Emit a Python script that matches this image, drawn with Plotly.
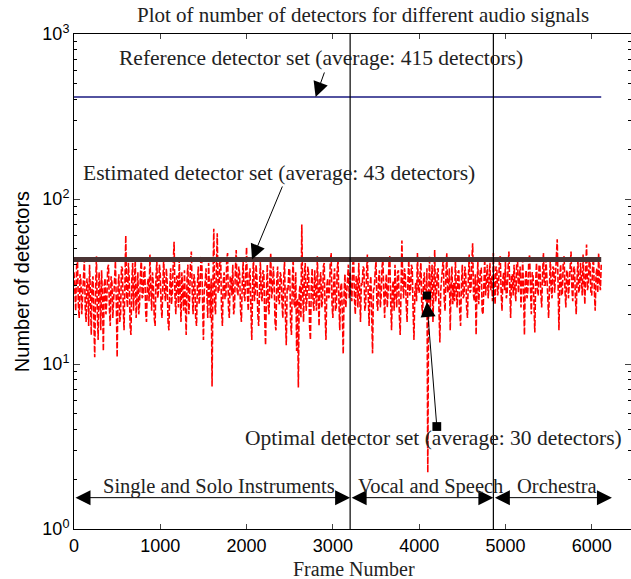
import math
import plotly.graph_objects as go

# Optimal number of detectors per frame (one sample every 10 frames)
optimal_detectors = [
    36, 25, 21, 39, 44, 23, 19, 35, 32, 20, 26, 41, 43, 22, 18, 33, 30, 17, 40, 27,
    15, 31, 34, 19, 11, 28, 45, 21, 14, 36, 29, 16, 37, 25, 12, 30, 33, 20, 24, 38,
    40, 22, 17, 34, 31, 19, 25, 37, 42, 24, 11, 29, 35, 18, 20, 39, 38, 23, 16, 30,
    60, 26, 22, 41, 33, 17, 15, 32, 41, 21, 27, 43, 19, 28, 36, 20, 23, 35, 44, 25,
    26, 37, 39, 21, 18, 30, 33, 24, 46, 29, 21, 36, 30, 19, 17, 34, 42, 25, 28, 40,
    35, 22, 19, 31, 44, 27, 24, 38, 31, 18, 16, 29, 38, 23, 27, 41, 55, 26, 20, 34,
    34, 22, 43, 28, 18, 36, 29, 21, 37, 26, 15, 33, 40, 20, 25, 42, 48, 27, 20, 35,
    32, 19, 17, 30, 39, 23, 26, 44, 45, 24, 14, 28, 31, 38, 23, 19, 41, 26, 19, 33,
    7.3, 30, 66, 24, 20, 38, 62, 27, 28, 41, 44, 21, 17, 32, 36, 25, 25, 43, 47, 22,
    19, 34, 33, 26, 40, 20, 22, 37, 49, 28, 26, 39, 35, 21, 18, 31, 42, 27, 24, 36,
    51, 26, 21, 35, 38, 22, 14, 30, 45, 24, 27, 40, 33, 20, 17, 29, 42, 26, 24, 37,
    36, 19, 13, 27, 40, 23, 20, 34, 47, 25, 28, 39, 31, 18, 16, 32, 39, 24, 23, 36,
    34, 24, 19, 33, 42, 20, 13, 29, 28, 38, 37, 18, 15, 31, 44, 23, 22, 36, 12, 25,
    7.2, 27, 30, 19, 70, 28, 18, 35, 41, 21, 25, 39, 35, 17, 14, 30, 38, 24, 21, 37,
    29, 21, 45, 26, 17, 33, 36, 22, 24, 39, 41, 20, 14, 30, 33, 25, 26, 42, 47, 23,
    19, 32, 38, 21, 22, 37, 43, 24, 16, 29, 31, 20, 11.5, 27, 35, 22, 28, 38, 40, 25,
    36, 27, 24, 40, 44, 25, 20, 34, 33, 22, 41, 28, 18, 31, 30, 39, 38, 21, 23, 35,
    46, 26, 17, 30, 34, 20, 11.6, 28, 29, 36, 42, 24, 21, 33, 37, 22, 26, 39, 43, 27,
    19, 30, 35, 22, 27, 41, 45, 24, 16, 29, 32, 21, 40, 27, 22, 36, 37, 20, 15, 28,
    56, 31, 25, 38, 34, 23, 18, 32, 43, 26, 28, 40, 38, 21, 14, 27, 31, 24, 47, 29,
    27, 35, 41, 23, 20, 32, 36, 25, 24, 38, 2.2, 26, 45, 22, 30, 40, 18, 29, 49, 24,
    26, 37, 38, 21, 13.5, 28, 33, 42, 44, 25, 21, 34, 47, 27, 29, 38, 16, 30, 39, 23,
    31, 24, 43, 28, 22, 36, 37, 21, 17, 30, 40, 25, 26, 39, 35, 22, 19, 33, 46, 27,
    28, 41, 54, 26, 24, 35, 15, 29, 42, 23, 30, 38, 38, 21, 20, 34, 44, 26, 33, 40,
    25, 37, 41, 28, 34, 24, 47, 30, 23, 39, 38, 26, 29, 43, 45, 27, 21, 33, 36, 28,
    42, 25, 27, 38, 48, 30, 19, 34, 35, 26, 40, 29, 24, 41, 44, 27, 31, 39, 22, 33,
    43, 27, 15, 33, 37, 25, 28, 42, 46, 29, 20, 36, 34, 24, 15.5, 31, 41, 28, 26, 40,
    39, 27, 22, 35, 47, 30, 30, 43, 36, 26, 19, 34, 44, 29, 25, 39, 38, 27, 33, 45,
    57, 30, 16, 34, 40, 26, 27, 42, 45, 28, 22, 37, 36, 25, 31, 44, 48, 29, 24, 38,
    39, 26, 20, 33, 43, 27, 29, 41, 35, 26, 46, 30, 23, 37, 53, 28, 30, 42, 41, 27,
    26, 39, 44, 28, 21, 35, 38, 27, 47, 32, 28, 40,
]
frames = list(range(0, 10 * len(optimal_detectors), 10))

reference_avg = 415
estimated_avg = 43
optimal_avg = 30

# Boundaries between the audio categories (frame numbers)
boundaries = [3200, 4860]
categories = ["Single and Solo Instruments", "Vocal and Speech", "Orchestra"]
category_spans = [(0, 3200), (3200, 4860), (4860, 6234)]

x_ticks = [0, 1000, 2000, 3000, 4000, 5000, 6000]
y_ticks = [1, 10, 100, 1000]
y_tick_text = ["10<sup>0</sup>", "10<sup>1</sup>", "10<sup>2</sup>", "10<sup>3</sup>"]
y_minor_ticks = [m * d for d in (1, 10, 100) for m in range(2, 10)]

serif = "Liberation Serif"
sans = "Liberation Sans"
ink = "#222222"

fig = go.Figure()

fig.add_trace(go.Scatter(
    x=frames, y=optimal_detectors, mode="lines",
    line=dict(color="#ff0000", width=1.6, dash="6px,2px"),
    hoverinfo="skip", showlegend=False,
))
fig.add_trace(go.Scatter(
    x=[frames[0], frames[-1]], y=[reference_avg, reference_avg], mode="lines",
    line=dict(color="#1a1a80", width=1.3), showlegend=False,
))
fig.add_trace(go.Scatter(
    x=[frames[0], frames[-1]], y=[estimated_avg, estimated_avg], mode="lines",
    line=dict(color="#4a3434", width=5), showlegend=False,
))
# Marker at the tip of the optimal-set pointer
fig.add_trace(go.Scatter(
    x=[4090], y=[26], mode="markers",
    marker=dict(symbol="square", size=8, color="black"), showlegend=False,
))

for b in boundaries:
    fig.add_shape(type="line", xref="x", yref="paper", x0=b, x1=b, y0=0, y1=1,
                  line=dict(color="black", width=1.2))

L = math.log10
ann = []

def text(x, y, s, size):
    ann.append(dict(x=x, y=L(y), xref="x", yref="y", text=s, showarrow=False,
                    xanchor="center", yanchor="middle",
                    font=dict(family=serif, size=size, color=ink)))

def arrow(x0, y0, x1, y1, both=False, start_head=None):
    d = dict(x=x1, y=L(y1), ax=x0, ay=L(y0), xref="x", yref="y", axref="x", ayref="y",
             text="", showarrow=True, arrowhead=2, arrowsize=3, arrowwidth=1,
             arrowcolor="black")
    if both:
        d.update(arrowside="end+start", startarrowhead=2, startarrowsize=3)
    if start_head is not None:
        d.update(arrowside="end+start", startarrowhead=start_head, startarrowsize=2.2)
    ann.append(d)

text(2868, 10 ** 2.855, f"Reference detector set (average: {reference_avg} detectors)", 21.5)
text(2370, 10 ** 2.158, f"Estimated detector set (average: {estimated_avg} detectors)", 21.5)
text(4171, 10 ** 0.552, f"Optimal detector set (average: {optimal_avg} detectors)", 21.5)

arrow(2908, 10 ** 2.776, 2800, reference_avg)
arrow(2422, 10 ** 2.085, 2063, estimated_avg)
arrow(4206, 10 ** 0.612, 4090, 10 ** 1.376, start_head=7)

label_x = [1680, 4137, 5597]
for (a, b), name, lx in zip(category_spans, categories, label_x):
    arrow(a, 10 ** 0.19, b, 10 ** 0.19, both=True)
    text(lx, 10 ** 0.258, name, 20.5)

# Title and axis titles
ann.append(dict(x=0.519, y=1.038, xref="paper", yref="paper", showarrow=False,
                xanchor="center", yanchor="middle",
                text="Plot of number of detectors for different audio signals",
                font=dict(family=serif, size=21, color=ink)))
ann.append(dict(x=0.503, y=-0.081, xref="paper", yref="paper", showarrow=False,
                xanchor="center", yanchor="middle",
                text="Frame Number", font=dict(family=serif, size=20, color=ink)))
ann.append(dict(x=-0.094, y=0.5, xref="paper", yref="paper", showarrow=False,
                xanchor="center", yanchor="middle",
                textangle=-90, text="Number of detectors",
                font=dict(family=sans, size=20, color="black")))

fig.update_layout(
    width=631, height=579,
    margin=dict(l=74, r=0, t=34, b=50),
    plot_bgcolor="white", paper_bgcolor="white",
    annotations=ann,
    xaxis=dict(range=[0, 6455], tickvals=x_ticks, ticks="inside", ticklen=5,
               showline=True, linecolor="black", linewidth=1, mirror="ticks",
               showgrid=False, zeroline=False,
               tickfont=dict(family=sans, size=18, color="black")),
    yaxis=dict(type="log", range=[0, 3], tickvals=y_ticks, ticktext=y_tick_text,
               ticks="inside", ticklen=6, showline=True, linecolor="black",
               linewidth=1, mirror="ticks", showgrid=False, zeroline=False,
               minor=dict(tickvals=y_minor_ticks, ticks="inside", ticklen=3,
                          tickcolor="black", showgrid=False),
               tickfont=dict(family=sans, size=18, color="black")),
)

fig.write_html("out.html")
